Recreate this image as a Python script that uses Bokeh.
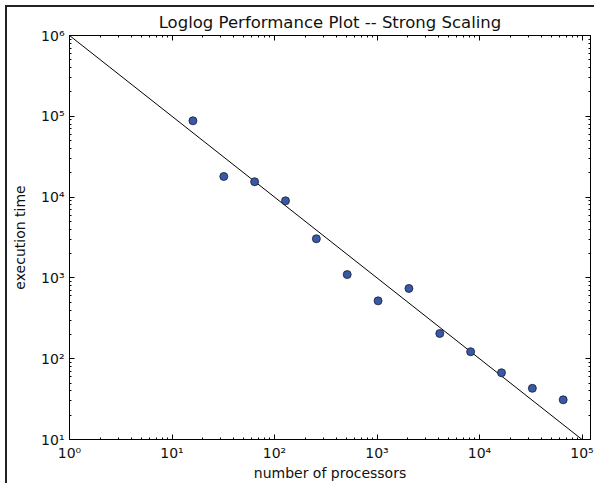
from bokeh.plotting import figure
from bokeh.models import LogAxis, LogTicker, ColumnDataSource
from bokeh.embed import file_html
from bokeh.resources import INLINE

# data
processors = [16, 32, 64, 128, 256, 512, 1024, 2048, 4096, 8192, 16384, 32768, 65536]
exec_time = [88000, 18000, 15500, 9000, 3050, 1100, 520, 740, 205, 122, 67, 43, 31]
ideal_x = [1, 131072]
ideal_y = [1e6, 7.63]
x_tick_vals = [1, 10, 100, 1000, 10000, 100000]
x_tick_labels = ["10⁰", "10¹", "10²", "10³", "10⁴", "10⁵"]
y_tick_vals = [10, 100, 1000, 10000, 100000, 1000000]
y_tick_labels = ["10¹", "10²", "10³", "10⁴", "10⁵", "10⁶"]

FONT = "DejaVu Sans"

p = figure(x_axis_type="log", y_axis_type="log",
           x_range=(1, 121000), y_range=(10, 1e6),
           frame_width=521, frame_height=404,
           min_border_left=62, min_border_right=4, min_border_top=28, min_border_bottom=36,
           output_backend="svg", toolbar_location=None,
           title="Loglog Performance Plot -- Strong Scaling")
p.styles = {"border-left": "2px solid #222", "border-top": "2px solid #222",
            "margin-left": "5px", "margin-top": "5px"}

p.title.align = "center"
p.title.text_font = FONT
p.title.text_font_style = "normal"
p.title.text_font_size = "16.5px"
p.title.text_color = "#111"
p.title.offset = 0
p.title.standoff = 7

p.xgrid.visible = False
p.ygrid.visible = False
p.outline_line_color = "black"
p.outline_line_width = 1
p.background_fill_color = "white"
p.border_fill_color = "white"

def style_axis(ax, labels=True):
    ax.axis_line_color = "black"
    ax.major_tick_in = 5
    ax.major_tick_out = 0
    ax.minor_tick_in = 2
    ax.minor_tick_out = 0
    ax.major_tick_line_color = "black"
    ax.minor_tick_line_color = "black"
    ax.major_label_text_font = FONT
    ax.major_label_text_font_size = "14px" if labels else "1px"
    ax.major_label_text_color = "#111" if labels else None
    ax.major_label_text_alpha = 1 if labels else 0
    ax.axis_label_text_font = FONT
    ax.axis_label_text_font_style = "normal"
    ax.axis_label_text_font_size = "14px"
    ax.axis_label_text_color = "#111"
    if not labels:
        ax.major_label_standoff = 0

xa = p.xaxis[0]
ya = p.yaxis[0]
xa.ticker = LogTicker(desired_num_ticks=6, num_minor_ticks=10)
ya.ticker = LogTicker(desired_num_ticks=6, num_minor_ticks=10)
xa.major_label_overrides = {v: s for v, s in zip(x_tick_vals, x_tick_labels)}
ya.major_label_overrides = {v: s for v, s in zip(y_tick_vals, y_tick_labels)}
style_axis(xa)
style_axis(ya)
xa.axis_label = "number of processors"
ya.axis_label = "execution time"
xa.major_label_standoff = 5
ya.major_label_standoff = 5
xa.axis_label_standoff = 1
ya.axis_label_standoff = 10

top = LogAxis(ticker=LogTicker(num_minor_ticks=10))
right = LogAxis(ticker=LogTicker(num_minor_ticks=10))
style_axis(top, labels=False)
style_axis(right, labels=False)
p.add_layout(top, "above")
p.add_layout(right, "right")

p.line(ideal_x, ideal_y, line_color="black", line_width=1)
src = ColumnDataSource(dict(x=processors, y=exec_time))
p.scatter("x", "y", source=src, size=8, fill_color="#3858a8", line_color="#1a1a2a", line_width=0.8)

open("out.html", "w").write(file_html(p, INLINE))
